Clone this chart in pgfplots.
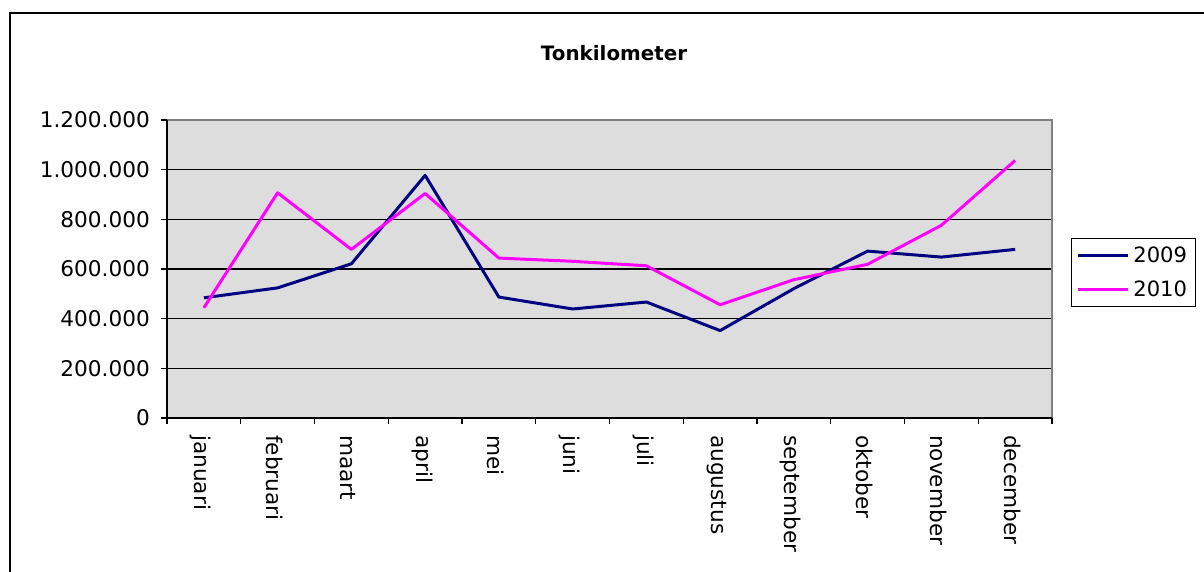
\documentclass[border=0pt]{standalone}
\usepackage{fontspec}
\setmainfont{DejaVu Sans}
\usepackage{pgfplots}
\pgfplotsset{compat=1.18}
\definecolor{s2009}{HTML}{000080}
\definecolor{s2010}{HTML}{FF00FF}
\definecolor{plotbg}{HTML}{DDDDDD}
\definecolor{framegray}{HTML}{808080}

\begin{document}
\begin{tikzpicture}
\path[use as bounding box] (0,0) rectangle (24.08,-11.44);
% outer chart frame (left and top visible)
\draw[line width=0.8pt] (0.2,-11.6) -- (0.2,-0.26) -- (24.2,-0.26);
\node[font=\fontsize{11.3}{13}\selectfont\bfseries] at (12.28,-1.06) {Tonkilometer};
\begin{axis}[
    at={(3.34cm,-8.36cm)}, anchor=south west,
    scale only axis,
    width=17.7cm, height=5.96cm,
    xmin=-0.5, xmax=11.5,
    ymin=0, ymax=1200000,
    xtick={0,...,11},
    xticklabels={januari,februari,maart,april,mei,juni,juli,augustus,september,oktober,november,december},
    minor xtick={-0.5,0.5,...,11.5},
    ytick={0,200000,...,1200000},
    yticklabels={0,200.000,400.000,600.000,800.000,1.000.000,1.200.000},
    scaled y ticks=false,
    tick pos=left,
    tick align=outside,
    major tick length=0.12cm,
    minor tick length=0.12cm,
    x tick style={draw=none},
    minor x tick style={draw=black, line width=0.6pt},
    y tick style={black, line width=0.6pt},
    xticklabel style={yshift=-0.1cm, xshift=-0.06cm, rotate=-90, anchor=west},
    y tick label style={xshift=-0.1cm},
    tick label style={font=\fontsize{12.3}{14}\selectfont, color=black},
    axis background/.style={fill=plotbg},
    axis line style={draw=none},
    ymajorgrids=true,
    grid style={black, line width=0.6pt},
    legend style={
        at={(1.0215,0.604)}, anchor=north west,
        font=\fontsize{12}{14}\selectfont,
        draw=black, line width=0.6pt, fill=white,
        inner xsep=3pt, inner ysep=2.5pt,
        row sep=5pt,
    },
    legend cell align=left,
    legend image code/.code={\draw[#1] (0cm,0cm) -- (1cm,0cm);},
    name=ax,
]
\addplot[color=s2009, line width=1.7pt, line join=round] coordinates {
(0,484000) (1,524000) (2,621000) (3,977000) (4,487000) (5,439000)
(6,467000) (7,352000) (8,521000) (9,672000) (10,648000) (11,679000)};
\addlegendentry{2009}
\addplot[color=s2010, line width=1.7pt, line join=round] coordinates {
(0,444000) (1,907000) (2,679000) (3,904000) (4,644000) (5,631000)
(6,613000) (7,456000) (8,557000) (9,619000) (10,776000) (11,1037000)};
\addlegendentry{2010}
\end{axis}
\draw[framegray, line width=1pt] (ax.north west) -- (ax.north east) -- (ax.south east);
\draw[black, line width=1pt] (ax.north west) -- (ax.south west) -- (ax.south east);
\end{tikzpicture}
\end{document}
